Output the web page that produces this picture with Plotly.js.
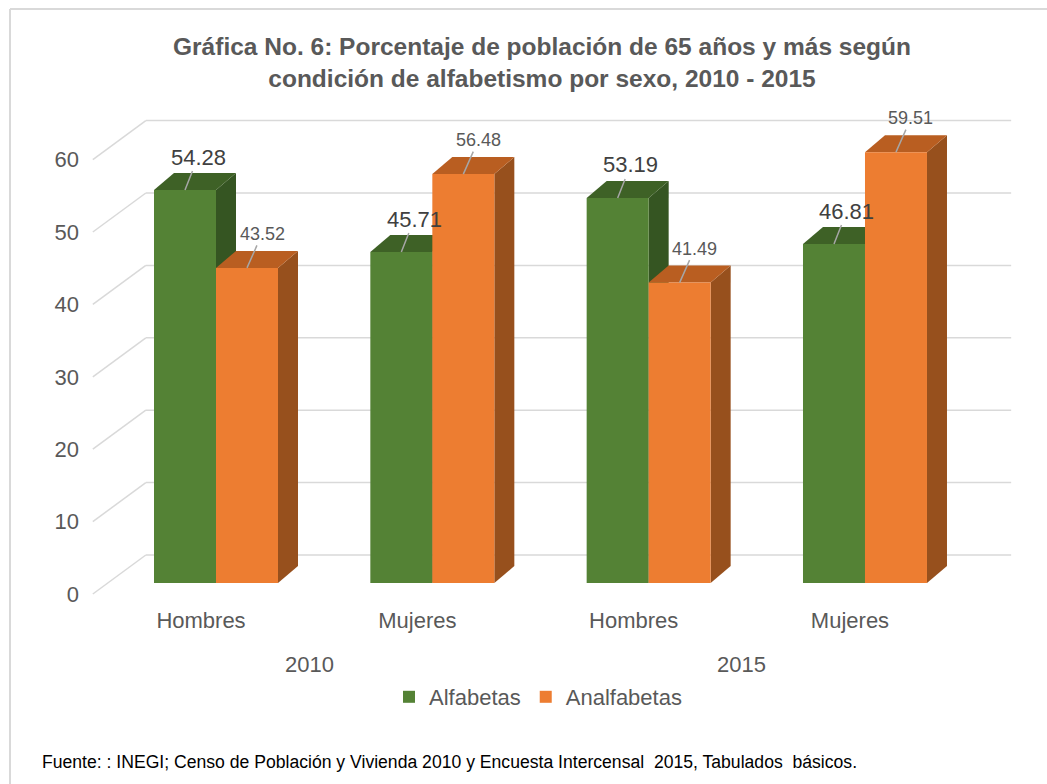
<!DOCTYPE html>
<html>
<head>
<meta charset="utf-8">
<script src="https://cdn.plot.ly/plotly-3.0.1.min.js"></script>
<style>
html,body{margin:0;padding:0;background:#fff;}
#chart{width:1047px;height:784px;}
</style>
</head>
<body>
<div id="chart"></div>
<script>
// ---- data ----
var categories = ["Hombres", "Mujeres", "Hombres", "Mujeres"];
var years = ["2010", "2015"];
var alfabetas = [54.28, 45.71, 53.19, 46.81];
var analfabetas = [43.52, 56.48, 41.49, 59.51];
var yTicks = [0, 10, 20, 30, 40, 50, 60];
var seriesNames = ["Alfabetas", "Analfabetas"];

// ---- geometry (pixels) ----
var W = 1047, H = 784;
var M = {l: 80, r: 27, t: 100, b: 184};
var PW = W - M.l - M.r, PH = H - M.t - M.b;
var PX_PER_CAT = 216.33, PX_PER_VAL = 7.24;
var CAT0_PX = 216 - M.l;       // pixel of category 0 centre inside plot
var BASE_PX = 600 - 583;       // pixel of value 0 above plot bottom
var xr = [-CAT0_PX / PX_PER_CAT, (PW - CAT0_PX) / PX_PER_CAT];
var yr = [-BASE_PX / PX_PER_VAL, (PH - BASE_PX) / PX_PER_VAL];
function ux(px){ return px / PX_PER_CAT; }
function uy(px){ return px / PX_PER_VAL; }

var BAR_W = ux(62);
var BAR_DX = ux(20), BAR_DY = uy(17);
var FRONT_DX = ux(-15), FRONT_DY = uy(-11);
var BACK_DX = ux(38), BACK_DY = uy(28);
var WALL = [-0.5, categories.length - 0.5];

var colors = {
  green: {front: "#548235", top: "#3e6126", side: "#355522"},
  orange: {front: "#ED7D31", top: "#B95E21", side: "#97501D"}
};

var idx = categories.map(function(_, i){ return i; });
var xG = idx.map(function(i){ return i - BAR_W / 2; });
var xO = idx.map(function(i){ return i + BAR_W / 2; });

var traces = [
  {type: "bar", name: seriesNames[0], x: xG, y: alfabetas, width: BAR_W,
   marker: {color: colors.green.front, line: {width: 0}}, hoverinfo: "y"},
  {type: "bar", name: seriesNames[1], x: xO, y: analfabetas, width: BAR_W,
   marker: {color: colors.orange.front, line: {width: 0}}, hoverinfo: "y"}
];

var shapes = [];
// back wall gridlines and left diagonals
yTicks.forEach(function(v){
  shapes.push({type: "line", layer: "below", xref: "x", yref: "y",
    x0: WALL[0] + BACK_DX, x1: WALL[1] + BACK_DX, y0: v + BACK_DY, y1: v + BACK_DY,
    line: {color: "#d9d9d9", width: 1.5}});
  shapes.push({type: "line", layer: "below", xref: "x", yref: "y",
    x0: WALL[0] + FRONT_DX, x1: WALL[0] + BACK_DX, y0: v + FRONT_DY, y1: v + BACK_DY,
    line: {color: "#d9d9d9", width: 1.5}});
});
function pathOf(pts){
  return "M" + pts.map(function(p){ return p[0] + "," + p[1]; }).join(" L") + " Z";
}
function faces(xc, v, c){
  var x0 = xc - BAR_W / 2, x1 = xc + BAR_W / 2;
  shapes.push({type: "path", layer: "between", xref: "x", yref: "y",
    path: pathOf([[x1, 0], [x1, v], [x1 + BAR_DX, v + BAR_DY], [x1 + BAR_DX, BAR_DY]]),
    fillcolor: c.side, line: {width: 0}});
  shapes.push({type: "path", layer: "between", xref: "x", yref: "y",
    path: pathOf([[x0, v], [x1, v], [x1 + BAR_DX, v + BAR_DY], [x0 + BAR_DX, v + BAR_DY]]),
    fillcolor: c.top, line: {width: 0}});
}
idx.forEach(function(i){
  faces(xG[i], alfabetas[i], colors.green);
  faces(xO[i], analfabetas[i], colors.orange);
});
// chart border (top and left edges visible)
var pxToPaperX = function(px){ return (px - M.l) / PW; };
var pxToPaperY = function(py){ return (M.t + PH - py) / PH; };
shapes.push({type: "line", xref: "paper", yref: "paper",
  x0: pxToPaperX(10), x1: pxToPaperX(1060), y0: pxToPaperY(9), y1: pxToPaperY(9),
  line: {color: "#d9d9d9", width: 2}});
shapes.push({type: "line", xref: "paper", yref: "paper",
  x0: pxToPaperX(10), x1: pxToPaperX(10), y0: pxToPaperY(9), y1: pxToPaperY(800),
  line: {color: "#d9d9d9", width: 2}});

var annotations = [];
idx.forEach(function(i){
  annotations.push({x: idx[i] - BAR_W / 2, y: alfabetas[i], xref: "x", yref: "y",
    text: alfabetas[i].toFixed(2), showarrow: true, arrowhead: 0, arrowwidth: 1.5,
    arrowcolor: "#a6a6a6", ax: 13, ay: -33, standoff: 0,
    font: {family: "Liberation Sans, Arial, sans-serif", size: 22, color: "#404040"}});
  annotations.push({x: idx[i] + BAR_W / 2, y: analfabetas[i], xref: "x", yref: "y",
    text: analfabetas[i].toFixed(2), showarrow: true, arrowhead: 0, arrowwidth: 1.5,
    arrowcolor: "#a6a6a6", ax: 15, ay: -34, standoff: 0,
    font: {family: "Liberation Sans, Arial, sans-serif", size: 18, color: "#595959"}});
});
years.forEach(function(y, k){
  annotations.push({x: 2 * k + 0.5 + FRONT_DX, xref: "x", y: pxToPaperY(664), yref: "paper",
    text: y, showarrow: false, xanchor: "center", yanchor: "middle",
    font: {family: "Liberation Sans, Arial, sans-serif", size: 22, color: "#595959"}});
});
annotations.push({x: pxToPaperX(40), y: pxToPaperY(762), xref: "paper", yref: "paper",
  xanchor: "left", yanchor: "middle", showarrow: false,
  text: "Fuente: : INEGI; Censo de Población y Vivienda 2010 y Encuesta Intercensal  2015, Tabulados  básicos.",
  font: {family: "Liberation Sans, Arial, sans-serif", size: 17.6, color: "#000000"}});

var layout = {
  width: W, height: H,
  margin: M,
  paper_bgcolor: "#ffffff", plot_bgcolor: "rgba(0,0,0,0)",
  font: {family: "Liberation Sans, Arial, sans-serif", color: "#595959", size: 22},
  title: {text: "<b>Gráfica No. 6: Porcentaje de población de 65 años y más según<br>condición de alfabetismo por sexo, 2010 - 2015</b>",
    x: 542 / W, xref: "container", xanchor: "center", y: 1 - 55 / H, yref: "container", yanchor: "middle",
    font: {family: "Liberation Sans, Arial, sans-serif", size: 24.5, color: "#595959"}},
  barmode: "overlay",
  showlegend: true,
  legend: {orientation: "h", x: pxToPaperX(538), xanchor: "center", y: pxToPaperY(697), yanchor: "middle",
    font: {size: 22, color: "#595959"}, itemclick: false},
  xaxis: {range: xr, showgrid: false, zeroline: false, showline: false, ticks: "",
    tickmode: "array", tickvals: idx.map(function(i){ return i + FRONT_DX; }), ticktext: categories,
    ticklabelstandoff: 5,
    tickfont: {size: 22, color: "#595959"}, fixedrange: true},
  yaxis: {range: yr, showgrid: false, zeroline: false, showline: false, ticks: "",
    tickmode: "array", tickvals: yTicks.map(function(v){ return v + FRONT_DY; }),
    ticktext: yTicks.map(String),
    tickfont: {size: 22, color: "#595959"}, fixedrange: true},
  shapes: shapes,
  annotations: annotations
};

Plotly.newPlot("chart", traces, layout, {displayModeBar: false, staticPlot: true});
</script>
</body>
</html>
